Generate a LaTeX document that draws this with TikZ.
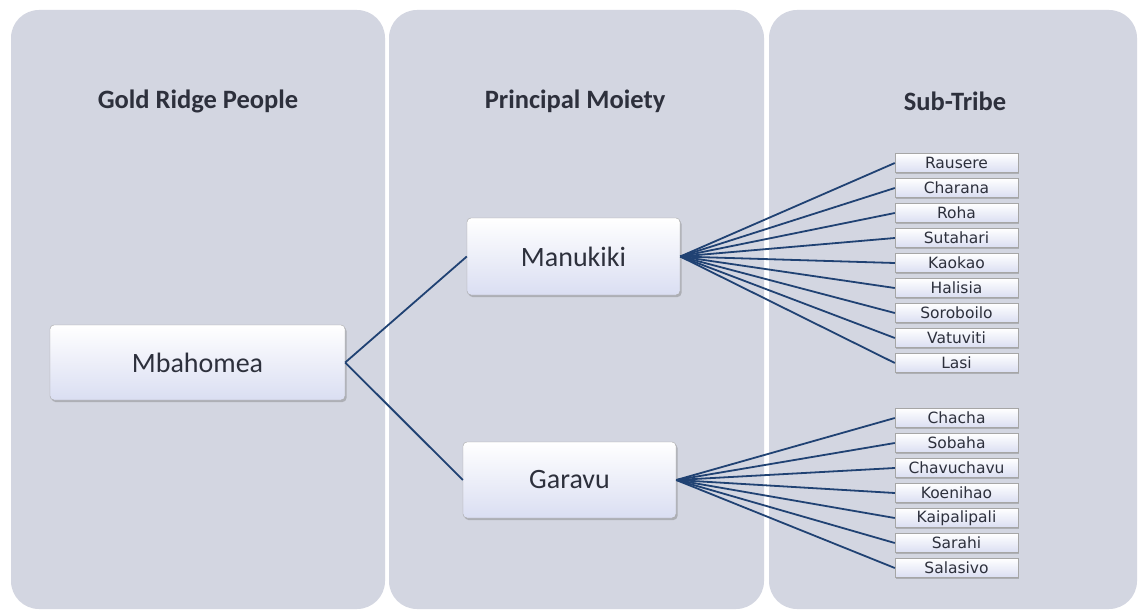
\documentclass[tikz,border=0pt]{standalone}
\usepackage{fontspec}
\setmainfont{Carlito}
\newfontfamily\tribefont{DejaVu Sans}
\usetikzlibrary{shadows}

\definecolor{panelgray}{RGB}{211,214,225}
\definecolor{boxlow}{RGB}{218,222,242}
\definecolor{linkblue}{RGB}{32,66,115}
\definecolor{textgray}{RGB}{45,48,60}

\tikzset{
  panel/.style={fill=panelgray, rounded corners=28pt},
  heading/.style={font=\fontsize{26.5}{30}\selectfont\bfseries, text=textgray},
  rankbox/.style={draw=gray!70, rounded corners=4pt, top color=white, bottom color=boxlow,
    drop shadow={opacity=0.45, shadow xshift=1.5pt, shadow yshift=-2pt},
    font=\fontsize{28}{32}\selectfont, text=textgray, inner sep=0pt},
  tribebox/.style={draw=gray!70, top color=white, bottom color=boxlow,
    drop shadow={opacity=0.45, shadow xshift=1pt, shadow yshift=-1.5pt},
    minimum width=123pt, minimum height=19pt, inner sep=0pt,
    font=\tribefont\fontsize{15.5}{17}\selectfont, text=textgray},
  link/.style={draw=linkblue, line width=1.8pt}
}

\begin{document}
\begin{tikzpicture}[x=1pt, y=-1pt]

      \useasboundingbox (0,0) rectangle (1139,610);
      \fill[white] (0,0) rectangle (1139,610);
      \fill[panel] (11,10) rectangle (385,609);
      \fill[panel] (389,10) rectangle (764,609);
      \fill[panel] (769,10) rectangle (1137,609);

      \node[heading] (hpeople) at (198,101) {Gold Ridge People};
      \node[heading] (hmoiety) at (575,101) {Principal Moiety};
      \node[heading] (htribe)  at (955,101) {Sub-Tribe};

      \node[rankbox, minimum width=295pt, minimum height=75pt] (mba) at (197.5,362.5) {Mbahomea};
      \node[rankbox, minimum width=213pt, minimum height=77pt] (man) at (573.5,256.5) {Manukiki};
      \node[rankbox, minimum width=213pt, minimum height=76pt] (gar) at (569.5,480) {Garavu};

      \draw[link] (mba.east) -- (man.west);
      \draw[link] (mba.east) -- (gar.west);

      \foreach \name [count=\i] in {Rausere,Charana,Roha,Sutahari,Kaokao,Halisia,Soroboilo,Vatuviti,Lasi}
      {
        \node[tribebox] (man\i) at (956.5,{163+25*(\i-1)}) {\name};
        \draw[link] (man.east) -- (man\i.west);
      }
      \foreach \name [count=\i] in {Chacha,Sobaha,Chavuchavu,Koenihao,Kaipalipali,Sarahi,Salasivo}
      {
        \node[tribebox] (gar\i) at (956.5,{418+25*(\i-1)}) {\name};
        \draw[link] (gar.east) -- (gar\i.west);
      }
    \end{tikzpicture}
\end{document}
